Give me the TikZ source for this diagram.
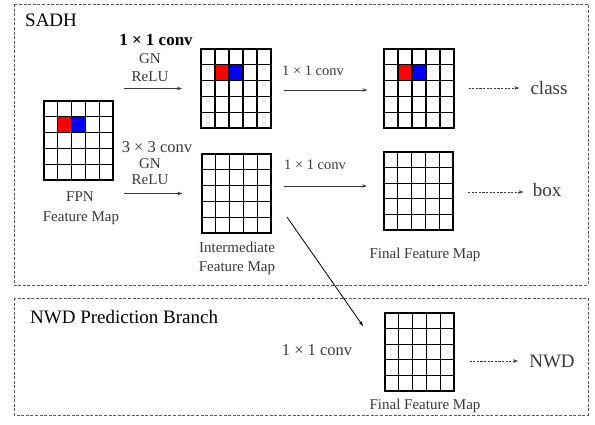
\documentclass[tikz,border=0pt]{standalone}
\usepackage{fontspec}
\setmainfont{Liberation Serif}
\usetikzlibrary{calc,arrows.meta}

\definecolor{lbl}{gray}{0.22}
\definecolor{frame}{gray}{0.35}

\tikzset{
  fmap/.style={draw=black, line width=1.1pt, minimum width=69pt, minimum height=78pt, inner sep=0pt, fill=white},
  gridline/.style={draw=black, line width=1.1pt},
  region/.style={draw=frame, line width=0.9pt, dash pattern=on 3pt off 1.6pt},
  arr/.style={draw=lbl, line width=0.8pt, -{Stealth[length=5pt,width=3.5pt]}},
  darr/.style={draw=lbl, line width=0.8pt, dash pattern=on 2.2pt off 1.4pt, -{Stealth[length=5pt,width=3.5pt]}},
  lab/.style={text=lbl, inner sep=2pt, font=\fontsize{15}{17}\selectfont},
  big/.style={text=lbl, inner sep=2pt, font=\fontsize{19}{21}\selectfont},
  head/.style={text=black, inner sep=0pt, font=\fontsize{19}{21}\selectfont},
}

% interior lines of a 5x5 feature map node
\newcommand\fmapgrid[1]{%
  \foreach \k in {1,...,4}{%
    \draw[gridline] ($(#1.north west)!\k/5!(#1.north east)$) -- ($(#1.south west)!\k/5!(#1.south east)$);
    \draw[gridline] ($(#1.north west)!\k/5!(#1.south west)$) -- ($(#1.north east)!\k/5!(#1.south east)$);
  }%
}
% fill cell (column #2, row #3) of map #1 with colour #4
\newcommand\fmapcell[4]{%
  \fill[#4] ($(#1.north west)!#2/5!(#1.north east)$) ++(0,{-#3*15.6}) rectangle ++(13.8,-15.6);
}

\begin{document}
\begin{tikzpicture}[x=1pt,y=1pt]
\useasboundingbox (0,0) rectangle (595,-424);

% region frames
\draw[region] (14,-4) rectangle (588,-285);
\draw[region] (14,-298) rectangle (588,-415);

\node[head, anchor=west] (sadh) at (25,-20) {SADH};
\node[head, anchor=west] (nwdb) at (30,-317) {NWD Prediction Branch};

% feature maps
\node[fmap] (fpn) at (78.5,-140.5) {};
\node[fmap] (mid) at (236,-88.5) {};
\node[fmap] (cls) at (419,-88.5) {};
\node[fmap] (inter) at (236.5,-193.5) {};
\node[fmap] (reg) at (418.5,-191) {};
\node[fmap] (nwd) at (419.5,-352) {};

\fmapcell{fpn}{1}{1}{red}\fmapcell{fpn}{2}{1}{blue}
\fmapcell{mid}{1}{1}{red}\fmapcell{mid}{2}{1}{blue}
\fmapcell{cls}{1}{1}{red}\fmapcell{cls}{2}{1}{blue}
\foreach \g in {fpn,mid,cls,inter,reg,nwd}{\fmapgrid{\g}\draw[gridline] (\g.north west) rectangle (\g.south east);}

% labels on the upper branch
\node[text=black, inner sep=0pt, font=\fontsize{17}{19}\selectfont\bfseries] (c1) at (156,-40) {1 × 1 conv};
\node[lab] (gn1) at (150,-59) {GN};
\node[lab] (relu1) at (150,-77) {ReLU};
\node[lab, font=\fontsize{14.5}{17}\selectfont] (c2) at (313,-71) {1 × 1 conv};
\node[big] (clst) at (549,-88) {class};

% labels on the lower branch
\node[lab, font=\fontsize{16.5}{19}\selectfont] (c3) at (157,-147) {3 × 3 conv};
\node[lab] (gn2) at (150,-164) {GN};
\node[lab] (relu2) at (150,-180) {ReLU};
\node[lab] (fpnt) at (80,-197) {FPN};
\node[lab] (fpnt2) at (81,-218) {Feature Map};
\node[lab] (intt) at (237,-247) {Intermediate};
\node[lab] (intt2) at (237,-268) {Feature Map};
\node[lab, font=\fontsize{14.5}{17}\selectfont] (c4) at (315,-165) {1 × 1 conv};
\node[big] (boxt) at (547,-190) {box};
\node[lab] (fin1) at (425,-255) {Final Feature Map};

% labels on the NWD branch
\node[lab, font=\fontsize{16.5}{19}\selectfont] (c5) at (317,-350) {1 × 1 conv};
\node[big] (nwdt) at (552,-361) {NWD};
\node[lab] (fin2) at (425,-406) {Final Feature Map};

% connectors
\draw[arr, shorten <=10pt, shorten >=19pt] (mid.west -| fpn.east) -- (mid.west);
\draw[arr, shorten <=12.5pt, shorten >=16.5pt] ($(mid.east)+(0,-1.5)$) -- ($(cls.west)+(0,-1.5)$);
\draw[arr, shorten <=10pt, shorten >=19pt] (inter.west -| fpn.east) -- (inter.west);
\draw[arr, shorten <=12pt, shorten >=16.5pt] ($(inter.east)+(0,7.5)$) -- ($(reg.west)+(0,5)$);
\draw[darr, shorten <=14.5pt, shorten >=9pt] (cls.east |- clst.west) -- (clst.west);
\draw[darr, shorten <=14.5pt, shorten >=7pt] ($(reg.east |- boxt.west)+(0,-2)$) -- ($(boxt.west)+(0,-2)$);
\draw[darr, shorten <=15pt, shorten >=9pt] (nwd.east |- nwdt.west) -- (nwdt.west);

\coordinate (dstart) at (287,-217);
\coordinate (dend) at (363,-326);
\draw[draw=black, line width=0.8pt, -{Stealth[length=5pt,width=3.5pt]}] (dstart) -- (dend);
\end{tikzpicture}
\end{document}
